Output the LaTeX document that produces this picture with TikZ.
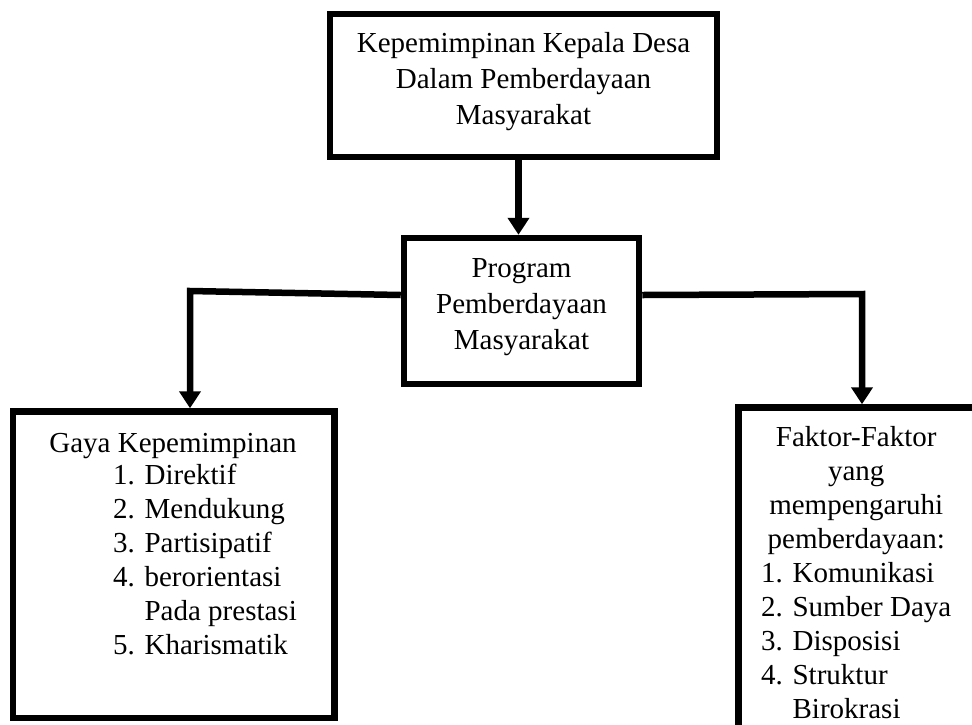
\documentclass[tikz,border=0pt]{standalone}
\usepackage{fontspec}
\setmainfont{Liberation Serif}
\usetikzlibrary{arrows.meta}

\tikzset{
  box/.style={draw, rectangle, line width=6.5pt, inner sep=0pt},
  conn/.style={line width=6.5pt, -{Triangle[width=21pt,length=17pt]}},
  txt/.style={inner sep=0pt, font=\fontsize{29}{36}\selectfont},
  listtxt/.style={inner sep=0pt, font=\fontsize{29}{34}\selectfont},
}

\begin{document}
\begin{tikzpicture}[x=1pt, y=1pt]
  \useasboundingbox (0,0) rectangle (972,-724);

  % boxes
  \node[box, minimum width=387pt, minimum height=143pt] (pimpin) at (523.5,-85.5) {};
  \node[box, minimum width=235pt, minimum height=146pt] (program) at (521.5,-311) {};
  \node[box, minimum width=321.5pt, minimum height=306.5pt] (gaya) at (173.75,-564.75) {};
  \node[box, minimum width=261.5pt, minimum height=352.5pt] (faktor) at (869.25,-583.75) {};

  % texts
  \node[txt, align=center] (pimpinisi) at ([yshift=4pt]pimpin)
    {Kepemimpinan Kepala Desa\\Dalam Pemberdayaan\\Masyarakat};
  \node[txt, align=center] (programisi) at ([yshift=4pt]program)
    {Program\\Pemberdayaan\\Masyarakat};
  \node[listtxt, anchor=base] (gayajudul) at (173,-452) {Gaya Kepemimpinan};
  \node[listtxt, anchor=base west] (gayaisi) at (113,-484)
    {\begin{tabular}[t]{@{}l@{}}
      1. Direktif\\
      2. Mendukung\\
      3. Partisipatif\\
      4. berorientasi\\
      \phantom{4. }Pada prestasi\\
      5. Kharismatik
    \end{tabular}};
  \node[listtxt, anchor=base west] (faktorisi) at (761,-446)
    {\begin{tabular}[t]{@{}l@{}}
      \multicolumn{1}{c}{Faktor-Faktor}\\
      \multicolumn{1}{c}{yang}\\
      \multicolumn{1}{c}{mempengaruhi}\\
      \multicolumn{1}{c}{pemberdayaan:}\\
      1. Komunikasi\\
      2. Sumber Daya\\
      3. Disposisi\\
      4. Struktur\\
      \phantom{4. }Birokrasi
    \end{tabular}};

  % connectors
  \coordinate (lbend) at (190,-291);
  \coordinate (rbend) at (862,-294);
  \draw[conn] ([xshift=-5pt]pimpin.south) -- ([xshift=-3pt]program.north);
  \draw[conn] ([yshift=16pt]program.west) -- (lbend) -- (lbend |- gaya.north);
  \draw[conn] ([yshift=16pt]program.east) -- (rbend) -- (rbend |- faktor.north);
\end{tikzpicture}
\end{document}
